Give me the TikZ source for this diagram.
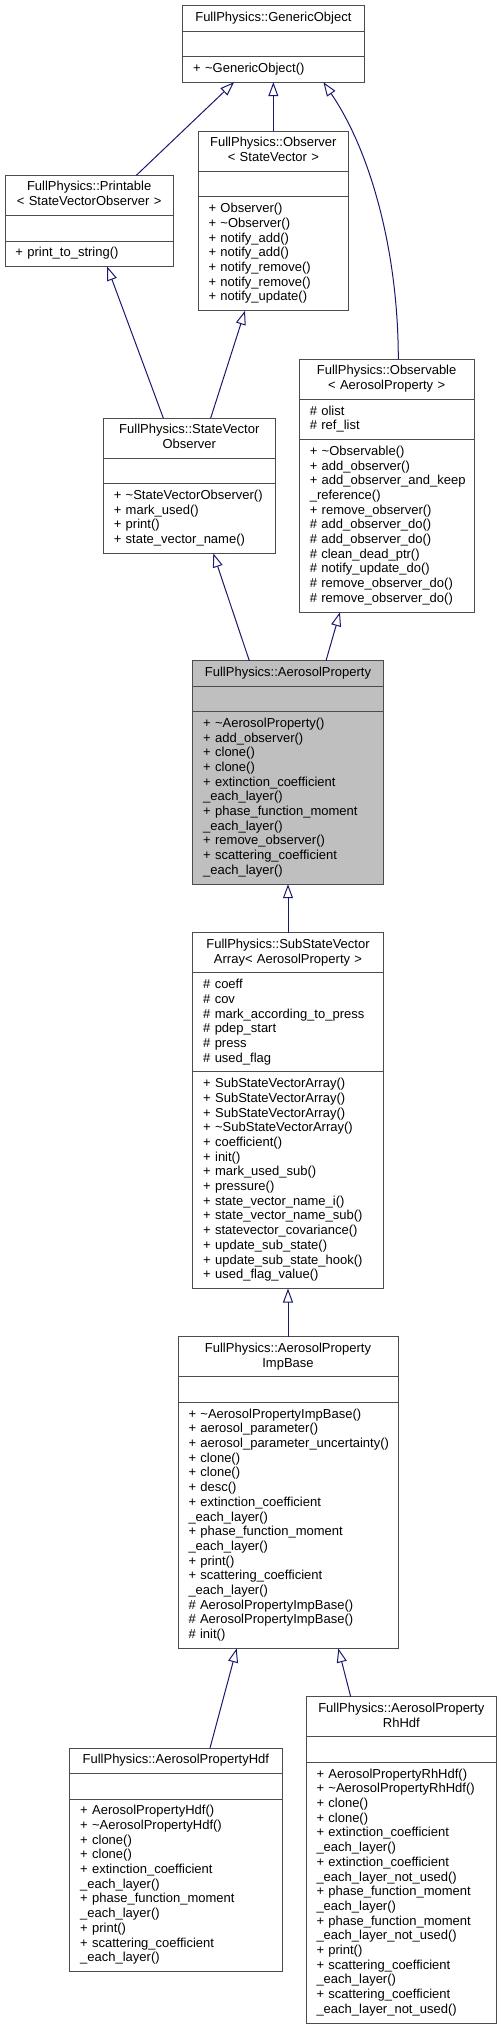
\documentclass[tikz,border=0pt]{standalone}
\usepackage{fontspec}
\setmainfont{Liberation Sans}
\usetikzlibrary{positioning, arrows.meta}
\definecolor{midnight}{HTML}{191970}

\tikzset{
  cls/.style={draw=black!70, line width=1pt, fill=white, inner sep=0pt, outer sep=0pt,
    text width=#1, font=\fontsize{13}{14.7}\selectfont},
  ttl/.style={cls=#1, inner ysep=5.4pt, align=center,
    execute at begin node=\strut, execute at end node=\strut},
  lst/.style={cls=#1, inner ysep=5.4pt,
    execute at begin node={\raggedright\leftskip=10.5pt\strut}, execute at end node=\strut},
  inh/.style={draw=midnight, line width=1pt, -{Triangle[open, length=14pt, width=10pt]}},
}

\begin{document}
\begin{tikzpicture}[x=1pt, y=-1pt]
        \useasboundingbox (0,0) rectangle (502,2028);

        % GenericObject
        \node[ttl=181.3pt, anchor=north] (gen) at (273.35,5.7) {FullPhysics::GenericObject};
        \node[lst=181.3pt, below=0pt of gen] (gen-a) {};
        \node[lst=181.3pt, below=0pt of gen-a] (gen-m) {+ \textasciitilde GenericObject()};

        % Printable
        \node[ttl=168.3pt, anchor=north] (prt) at (89.15,175.3) {FullPhysics::Printable\hspace*{19pt}\\< StateVectorObserver >};
        \node[lst=168.3pt, below=0pt of prt] (prt-a) {};
        \node[lst=168.3pt, below=0pt of prt-a] (prt-m) {+ print\_to\_string()};

        % Observer
        \node[ttl=150.7pt, anchor=north] (obs) at (273.35,131.3) {FullPhysics::Observer\\< StateVector >};
        \node[lst=150.7pt, below=0pt of obs] (obs-a) {};
        \node[lst=150.7pt, below=0pt of obs-a] (obs-m) {+ Observer()\\+ \textasciitilde Observer()\\+ notify\_add()\\+ notify\_add()\\+ notify\_remove()\\+ notify\_remove()\\+ notify\_update()};

        % Observable
        \node[ttl=174.7pt, anchor=north] (obsv) at (386.65,359.3) {FullPhysics::Observable\hspace*{10pt}\\< AerosolProperty >};
        \node[lst=174.7pt, below=0pt of obsv] (obsv-a) {\# olist\\\# ref\_list};
        \node[lst=174.7pt, below=0pt of obsv-a] (obsv-m) {+ \textasciitilde Observable()\\+ add\_observer()\\+ add\_observer\_and\_keep\\\_reference()\\+ remove\_observer()\\\# add\_observer\_do()\\\# add\_observer\_do()\\\# clean\_dead\_ptr()\\\# notify\_update\_do()\\\# remove\_observer\_do()\\\# remove\_observer\_do()};

        % StateVectorObserver
        \node[ttl=172pt, anchor=north] (svo) at (189.3,418) {FullPhysics::StateVector\\Observer};
        \node[lst=172pt, below=0pt of svo] (svo-a) {};
        \node[lst=172pt, below=0pt of svo-a] (svo-m) {+ \textasciitilde StateVectorObserver()\\+ mark\_used()\\+ print()\\+ state\_vector\_name()};

        % AerosolProperty
        \node[ttl=190.6pt, fill=black!25, anchor=north] (aer) at (288,660.7) {FullPhysics::AerosolProperty};
        \node[lst=190.6pt, fill=black!25, below=0pt of aer] (aer-a) {};
        \node[lst=190.6pt, fill=black!25, below=0pt of aer-a] (aer-m) {+ \textasciitilde AerosolProperty()\\+ add\_observer()\\+ clone()\\+ clone()\\+ extinction\_coefficient\\\_each\_layer()\\+ phase\_function\_moment\\\_each\_layer()\\+ remove\_observer()\\+ scattering\_coefficient\\\_each\_layer()};

        % SubStateVectorArray
        \node[ttl=190.6pt, anchor=north] (sub) at (288,932.7) {FullPhysics::SubStateVector\\Array< AerosolProperty >};
        \node[lst=190.6pt, below=0pt of sub] (sub-a) {\# coeff\\\# cov\\\# mark\_according\_to\_press\\\# pdep\_start\\\# press\\\# used\_flag};
        \node[lst=190.6pt, below=0pt of sub-a] (sub-m) {+ SubStateVectorArray()\\+ SubStateVectorArray()\\+ SubStateVectorArray()\\+ \textasciitilde SubStateVectorArray()\\+ coefficient()\\+ init()\\+ mark\_used\_sub()\\+ pressure()\\+ state\_vector\_name\_i()\\+ state\_vector\_name\_sub()\\+ statevector\_covariance()\\+ update\_sub\_state()\\+ update\_sub\_state\_hook()\\+ used\_flag\_value()};

        % AerosolPropertyImpBase
        \node[ttl=220pt, anchor=north] (imp) at (288,1336.7) {FullPhysics::AerosolProperty\hspace*{32pt}\\ImpBase};
        \node[lst=220pt, below=0pt of imp] (imp-a) {};
        \node[lst=220pt, below=0pt of imp-a] (imp-m) {+ \textasciitilde AerosolPropertyImpBase()\\+ aerosol\_parameter()\\+ aerosol\_parameter\_uncertainty()\\+ clone()\\+ clone()\\+ desc()\\+ extinction\_coefficient\\\_each\_layer()\\+ phase\_function\_moment\\\_each\_layer()\\+ print()\\+ scattering\_coefficient\\\_each\_layer()\\\# AerosolPropertyImpBase()\\\# AerosolPropertyImpBase()\\\# init()};

        % AerosolPropertyHdf
        \node[ttl=212.3pt, anchor=north] (hdf) at (175.85,1748) {FullPhysics::AerosolPropertyHdf};
        \node[lst=212.3pt, below=0pt of hdf] (hdf-a) {};
        \node[lst=212.3pt, below=0pt of hdf-a] (hdf-m) {+ AerosolPropertyHdf()\\+ \textasciitilde AerosolPropertyHdf()\\+ clone()\\+ clone()\\+ extinction\_coefficient\\\_each\_layer()\\+ phase\_function\_moment\\\_each\_layer()\\+ print()\\+ scattering\_coefficient\\\_each\_layer()};

        % AerosolPropertyRhHdf
        \node[ttl=190.7pt, anchor=north] (rh) at (401.35,1696.7) {FullPhysics::AerosolProperty\\RhHdf};
        \node[lst=190.7pt, below=0pt of rh] (rh-a) {};
        \node[lst=190.7pt, below=0pt of rh-a] (rh-m) {+ AerosolPropertyRhHdf()\\+ \textasciitilde AerosolPropertyRhHdf()\\+ clone()\\+ clone()\\+ extinction\_coefficient\\\_each\_layer()\\+ extinction\_coefficient\\\_each\_layer\_not\_used()\\+ phase\_function\_moment\\\_each\_layer()\\+ phase\_function\_moment\\\_each\_layer\_not\_used()\\+ print()\\+ scattering\_coefficient\\\_each\_layer()\\+ scattering\_coefficient\\\_each\_layer\_not\_used()};

        % Inheritance
        \draw[inh] ([xshift=47.2pt]prt.north) -- ([xshift=-39.3pt]gen-m.south);
        \draw[inh] (obs.north) -- (gen-m.south);
        \draw[inh] ([xshift=11.65pt]obsv.north) .. controls +(0,-109) and +(46.7,68.3) .. ([xshift=50pt]gen-m.south);
        \draw[inh] ([xshift=-26pt]svo.north) -- ([xshift=18pt]prt-m.south);
        \draw[inh] ([xshift=21.4pt]svo.north) -- ([xshift=-28.3pt]obs-m.south);
        \draw[inh] ([xshift=-38.7pt]aer.north) -- ([xshift=24pt]svo-m.south);
        \draw[inh] ([xshift=38pt]aer.north) -- ([xshift=-46.7pt]obsv-m.south);
        \draw[inh] (sub.north) -- (aer-m.south);
        \draw[inh] (imp.north) -- (sub-m.south);
        \draw[inh] ([xshift=34.15pt]hdf.north) -- ([xshift=-51.3pt]imp-m.south);
        \draw[inh] ([xshift=-50.65pt]rh.north) -- ([xshift=50.3pt]imp-m.south);
    \end{tikzpicture}
\end{document}
